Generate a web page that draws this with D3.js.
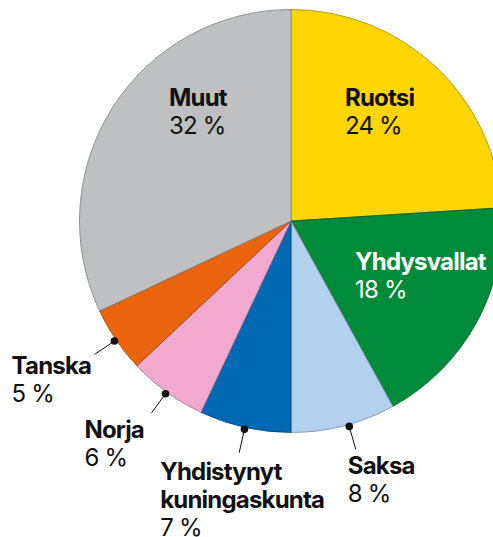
<!DOCTYPE html>
<html>
<head>
<meta charset="utf-8">
<script src="https://cdn.jsdelivr.net/npm/d3@7"></script>
<style>
  html, body { margin: 0; padding: 0; background: #fff; }
  svg { display: block; }
  text { font-family: Inter, Roboto, "Liberation Sans", sans-serif; font-size: 24px; fill: #111; letter-spacing: -0.8px; }
</style>
</head>
<body>
<div id="chart"></div>
<script>
// data, clockwise from 12 o'clock
const countries = ["Ruotsi", "Yhdysvallat", "Saksa", "Yhdistynyt kuningaskunta", "Norja", "Tanska", "Muut"];
const shares = [24, 18, 8, 7, 6, 5, 32];
const colors = ["#ffd500", "#008b3b", "#b1d1ef", "#0069b4", "#f2a9cf", "#e9640c", "#bfc0c2"];

const width = 493, height = 537;
const cx = 291, cy = 221, radius = 211.5;

const svg = d3.select("#chart")
  .append("svg")
  .attr("width", width)
  .attr("height", height);

const g = svg.append("g")
  .attr("transform", `translate(${cx}, ${cy})`);

const data = countries.map((c, i) => ({name: c, value: shares[i], color: colors[i]}));

const pie = d3.pie()
  .value(d => d.value)
  .sort(null);

const arc = d3.arc()
  .innerRadius(0)
  .outerRadius(radius);

const arcs = pie(data);

g.selectAll("path")
  .data(arcs)
  .join("path")
    .attr("d", arc)
    .attr("fill", d => d.data.color)
    .attr("stroke", d => d3.color(d.data.color).darker(1.2))
    .attr("stroke-width", 0.8);

// label layout: inside labels are offsets from centre, outside ones from the leader end
const labelLayout = {
  "Ruotsi":      {inside: true, dx: 54, dy: -115},
  "Yhdysvallat": {inside: true, dx: 64, dy: 49, white: true},
  "Muut":        {inside: true, dx: -122, dy: -115},
  "Tanska":      {dx: -83, dy: 20},
  "Norja":       {dx: -67, dy: 25},
  "Yhdistynyt kuningaskunta": {dx: -79, dy: 27, lines: ["Yhdistynyt", "kuningaskunta"]},
  "Saksa":       {dx: -8, dy: 25, shift: 0.025}
};

const lineH = 28;

arcs.forEach(a => {
  const lay = labelLayout[a.data.name];
  let x, y;
  if (lay.inside) {
    x = lay.dx; y = lay.dy;
  } else {
    const ang = (a.startAngle + a.endAngle) / 2 - (lay.shift || 0);
    const p0 = [Math.sin(ang) * (radius + 2), -Math.cos(ang) * (radius + 2)];
    const p1 = [Math.sin(ang) * (radius + 26), -Math.cos(ang) * (radius + 26)];
    g.append("line")
      .attr("x1", p0[0]).attr("y1", p0[1])
      .attr("x2", p1[0]).attr("y2", p1[1])
      .attr("stroke", "#111")
      .attr("stroke-width", 1);
    g.append("circle")
      .attr("cx", p0[0]).attr("cy", p0[1])
      .attr("r", 3.8)
      .attr("fill", "#111");
    x = p1[0] + lay.dx; y = p1[1] + lay.dy;
  }
  const lines = lay.lines || [a.data.name];
  const t = g.append("text")
    .attr("x", x)
    .attr("y", y)
    .style("fill", lay.white ? "#fff" : "#111");
  lines.forEach((l, i) => {
    t.append("tspan")
      .attr("x", x)
      .attr("y", y + i * lineH)
      .attr("font-weight", 700)
      .text(l);
  });
  t.append("tspan")
    .attr("x", x)
    .attr("y", y + lines.length * lineH)
    .attr("font-weight", 400)
    .text(a.data.value + " %");
});
</script>
</body>
</html>
